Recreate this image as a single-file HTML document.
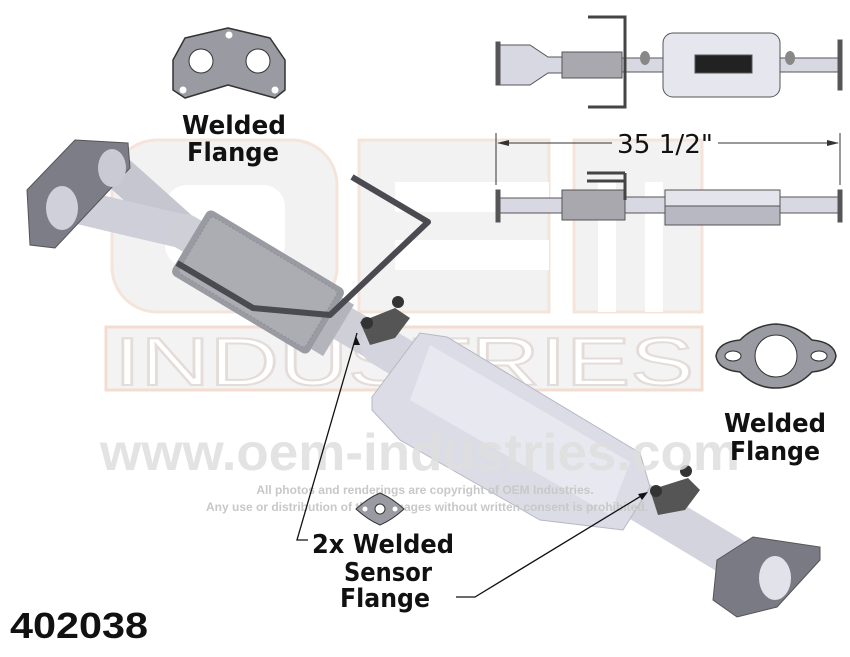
<!DOCTYPE html>
<html><head><meta charset="utf-8"><style>
html,body{margin:0;padding:0;background:#fff;width:850px;height:657px;overflow:hidden}
svg{display:block}
.lb{font-family:"DejaVu Sans","Liberation Sans",sans-serif;font-weight:bold;fill:#111;text-anchor:middle}
</style></head><body>
<svg width="850" height="657" viewBox="0 0 850 657" xmlns="http://www.w3.org/2000/svg">
<!-- watermark OEM blocks -->
<g fill="#f2f2f2" stroke="#f5e4da" stroke-width="3">
<rect x="112" y="140" width="225" height="172" rx="45"/>
<rect x="359" y="140" width="190" height="172"/>
<rect x="574" y="140" width="128" height="172"/>
</g>
<g fill="#fff">
<rect x="165" y="185" width="120" height="82" rx="22"/>
<rect x="395" y="182" width="154" height="30"/><rect x="395" y="240" width="154" height="30"/>
<rect x="598" y="182" width="18" height="130"/><rect x="645" y="182" width="18" height="130"/>
</g>
<rect x="106" y="327" width="596" height="63" fill="#f3f3f3" stroke="#f3ddd0" stroke-width="3"/>
<text x="404" y="385" font-family="Liberation Sans,sans-serif" font-size="68" fill="#fff" stroke="#e4dcd8" stroke-width="2" text-anchor="middle" textLength="580" lengthAdjust="spacingAndGlyphs">INDUSTRIES</text>

<!-- main pipe -->
<g stroke-linecap="round" fill="none">
<path d="M110 165 L185 232" stroke="#c6c6d0" stroke-width="34"/>
<path d="M70 205 L185 232" stroke="#cfcfd9" stroke-width="34"/>
<path d="M185 232 L380 345" stroke="#cfcfd8" stroke-width="36"/>
<path d="M380 345 L770 580" stroke="#d4d4de" stroke-width="40"/>
</g>
<g transform="translate(258,282) rotate(31)">
<rect x="-80" y="-38" width="160" height="76" rx="6" fill="#9a9aa2"/>
<rect x="-74" y="-33" width="148" height="66" rx="4" fill="#acacb3" stroke="#8e8e95" stroke-width="1" stroke-dasharray="2 2"/>
<rect x="80" y="-30" width="14" height="60" fill="#b4b4bc"/>
</g>
<!-- converter -->
<path d="M372 397 L420 333 L447 337 L640 453 L650 487 L623 530 L540 520 L400 440 L372 410 Z" fill="#dcdce6" stroke="#b8b8c4" stroke-width="1"/>
<path d="M430 345 L630 462 L610 515 L410 400 Z" fill="#e8e8f0"/>
<!-- bracket -->
<path d="M177 263 L253 308 L330 315 L428 222 L352 177" stroke="#4a4a50" stroke-width="6" fill="none" stroke-linejoin="round"/>
<!-- inlet flange -->
<path d="M75 140 L128 143 L130 168 L55 248 L30 245 L27 190 Z" fill="#7d7d88" stroke="#555" stroke-width="1"/>
<ellipse cx="112" cy="168" rx="14" ry="19" fill="#cacad4"/><ellipse cx="62" cy="208" rx="16" ry="22" fill="#d0d0da"/>
<!-- outlet flange -->
<path d="M713 600 L717 560 L753 537 L820 547 L820 560 L777 607 L737 617 Z" fill="#7a7a84" stroke="#555"/>
<ellipse cx="775" cy="578" rx="16" ry="22" fill="#e2e2ea"/>
<!-- sensor flanges -->
<path d="M360 322 L395 308 L410 318 L395 338 L370 345 Z" fill="#555"/><circle cx="398" cy="302" r="6" fill="#333"/><circle cx="367" cy="323" r="6" fill="#333"/>
<path d="M650 490 L688 478 L700 490 L685 510 L658 515 Z" fill="#555"/><circle cx="686" cy="471" r="6" fill="#333"/><circle cx="656" cy="491" r="6" fill="#333"/>

<!-- url watermark -->
<text x="420" y="470" font-family="Liberation Sans,sans-serif" font-weight="bold" font-size="52" fill="#dedede" fill-opacity="0.85" text-anchor="middle" textLength="640" lengthAdjust="spacingAndGlyphs">www.oem-industries.com</text>
<text x="425" y="494" font-family="Liberation Sans,sans-serif" font-weight="bold" font-size="12" fill="#c8c8c8" text-anchor="middle">All photos and renderings are copyright of OEM Industries.</text>
<text x="427" y="511" font-family="Liberation Sans,sans-serif" font-weight="bold" font-size="12" fill="#c8c8c8" text-anchor="middle">Any use or distribution of these images without written consent is prohibited.</text>

<!-- gaskets -->
<path d="M185 38 L228 28 L270 38 L285 60 L285 90 L275 98 L228 85 L185 98 L173 90 L173 60 Z" fill="#9a9aa2" stroke="#333" stroke-width="1.5" stroke-linejoin="round"/>
<circle cx="201" cy="61" r="12" fill="#fff" stroke="#333"/><circle cx="258" cy="61" r="12" fill="#fff" stroke="#333"/>
<circle cx="183" cy="90" r="3.5" fill="#fff"/><circle cx="275" cy="90" r="3.5" fill="#fff"/><circle cx="229" cy="35" r="3.5" fill="#fff"/>
<path d="M716 356 Q718 342 740 340 Q755 325 776 324 Q797 325 812 340 Q834 342 836 356 Q834 370 812 372 Q797 388 776 388 Q755 388 740 372 Q718 370 716 356 Z" fill="#9a9aa2" stroke="#333" stroke-width="1.5"/>
<circle cx="776" cy="356" r="21" fill="#fff" stroke="#333"/>
<ellipse cx="733" cy="356" rx="8" ry="5" fill="#fff" stroke="#333"/><ellipse cx="819" cy="356" rx="8" ry="5" fill="#fff" stroke="#333"/>
<path d="M356 509 Q368 498 380 493 Q392 498 404 509 Q392 520 380 525 Q368 520 356 509 Z" fill="#9a9aa2" stroke="#333"/>
<circle cx="380" cy="509" r="5" fill="#fff" stroke="#333"/><circle cx="365" cy="509" r="2.5" fill="#fff"/><circle cx="395" cy="509" r="2.5" fill="#fff"/>

<!-- top view 1 -->
<g stroke="#555" stroke-width="1" fill="#d8d8e2">
<rect x="496" y="42" width="4" height="43" fill="#555"/>
<path d="M500 45 L530 45 L548 57 L562 57 L562 73 L548 73 L530 85 L500 85 Z"/>
<rect x="562" y="52" width="60" height="26" fill="#a8a8ae"/>
<rect x="622" y="58" width="42" height="14"/>
<rect x="663" y="33" width="117" height="64" rx="10" fill="#e6e6ee"/>
<rect x="695" y="55" width="57" height="18" fill="#222"/>
<rect x="780" y="58" width="58" height="14"/>
<rect x="838" y="40" width="4" height="50" fill="#555"/>
</g>
<path d="M588 17 L625 17 L625 107 L588 107" stroke="#444" stroke-width="3" fill="none"/>
<ellipse cx="645" cy="58" rx="5" ry="7" fill="#888"/><ellipse cx="790" cy="58" rx="5" ry="7" fill="#888"/>
<!-- top view 2 -->
<g stroke="#555" stroke-width="1" fill="#d8d8e2">
<rect x="496" y="190" width="4" height="32" fill="#555"/>
<rect x="500" y="198" width="62" height="15"/>
<rect x="562" y="190" width="63" height="30" fill="#a8a8ae"/>
<rect x="625" y="197" width="40" height="16"/>
<path d="M665 190 L780 190 L780 225 L665 225 Z" fill="#e4e4ec"/>
<rect x="665" y="206" width="115" height="19" fill="#b8b8c2"/>
<rect x="780" y="197" width="58" height="16"/>
<rect x="838" y="190" width="4" height="32" fill="#555"/>
</g>
<path d="M587 173 L625 173 M587 181 L625 181 M625 173 L625 200" stroke="#444" stroke-width="3" fill="none"/>
<!-- dimension -->
<line x1="496" y1="133" x2="496" y2="185" stroke="#333"/><line x1="840" y1="133" x2="840" y2="185" stroke="#333"/>
<line x1="498" y1="143" x2="612" y2="143" stroke="#333"/><line x1="718" y1="143" x2="838" y2="143" stroke="#333"/>
<path d="M497 143 L509 140 L509 146 Z M839 143 L827 140 L827 146 Z" fill="#333"/>
<text x="665" y="153" font-family="DejaVu Sans,sans-serif" font-size="26" fill="#111" text-anchor="middle" textLength="96" lengthAdjust="spacingAndGlyphs">35 1/2"</text>
<!-- leaders -->
<path d="M357 333 L297 540 L308 540" stroke="#111" stroke-width="1.3" fill="none"/>
<path d="M356 336 L353 345 L360 345 Z" fill="#111"/>
<path d="M456 597 L475 597 L646 493" stroke="#111" stroke-width="1.3" fill="none"/>
<path d="M648 492 L638 494 L642 500 Z" fill="#111"/>
<!-- labels -->
<text class="lb" x="234" y="134" font-size="26" textLength="104" lengthAdjust="spacingAndGlyphs">Welded</text>
<text class="lb" x="233" y="161" font-size="26" textLength="92" lengthAdjust="spacingAndGlyphs">Flange</text>
<text class="lb" x="775" y="432" font-size="26" textLength="102" lengthAdjust="spacingAndGlyphs">Welded</text>
<text class="lb" x="775" y="460" font-size="26" textLength="90" lengthAdjust="spacingAndGlyphs">Flange</text>
<text class="lb" x="383" y="553" font-size="26" textLength="142" lengthAdjust="spacingAndGlyphs">2x Welded</text>
<text class="lb" x="388" y="581" font-size="26" textLength="88" lengthAdjust="spacingAndGlyphs">Sensor</text>
<text class="lb" x="385" y="607" font-size="26" textLength="90" lengthAdjust="spacingAndGlyphs">Flange</text>
<text x="10" y="638" font-family="Liberation Sans,sans-serif" font-weight="bold" font-size="36" fill="#111" textLength="138" lengthAdjust="spacingAndGlyphs">402038</text>
</svg>
</body></html>
